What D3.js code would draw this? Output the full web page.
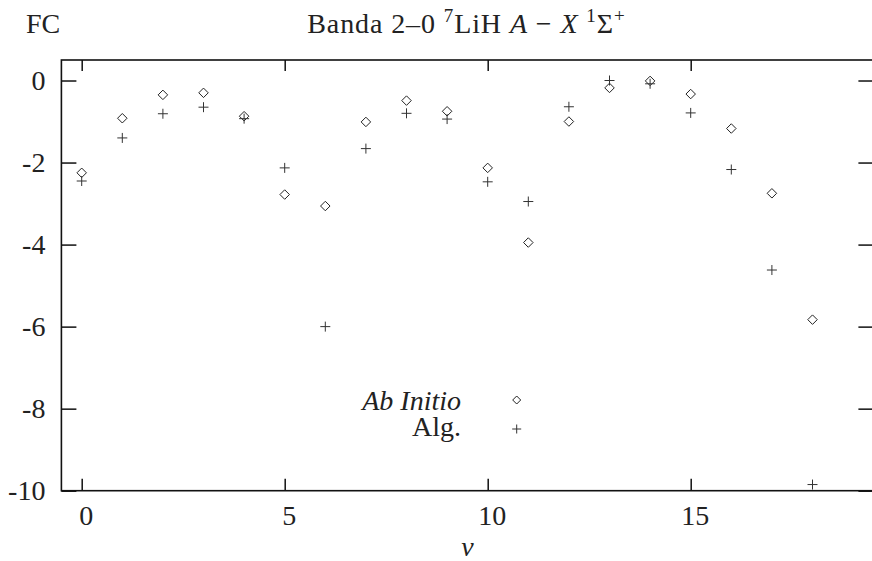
<!DOCTYPE html>
<html>
<head>
<meta charset="utf-8">
<script src="https://cdn.jsdelivr.net/npm/d3@7"></script>
<style>
  html, body { margin: 0; padding: 0; background: #fff; }
  svg { display: block; }
  svg text { font-family: "Liberation Serif", "Times New Roman", serif; }
</style>
</head>
<body>
<svg id="chart" width="872" height="561"></svg>
<script>
// Franck-Condon factors (log scale) per vibrational level v
const levels   = [0, 1, 2, 3, 4, 5, 6, 7, 8, 9, 10, 11, 12, 13, 14, 15, 16, 17, 18];
const abInitio = [-2.25, -0.92, -0.35, -0.30, -0.87, -2.78, -3.06, -1.01, -0.49, -0.75,
                  -2.13, -3.95, -1.00, -0.18, -0.01, -0.33, -1.17, -2.75, -5.83];
const algebraic = [-2.45, -1.40, -0.81, -0.65, -0.93, -2.13, -6.00, -1.66, -0.80, -0.94,
                   -2.47, -2.95, -0.64, 0.00, -0.08, -0.79, -2.17, -4.62, -9.85];
const xTicks = [0, 5, 10, 15];
const yTicks = [0, -2, -4, -6, -8, -10];
const xDomain = [-0.5, 19.5];
const yDomain = [-10, 0.5];

const fontSize = 28;
const ink = "#111";
const textInk = "#222";

const svg = d3.select("#chart");
const plotLeft = 61.4, plotRight = 873.4, plotTop = 60, plotBottom = 490.7;

const x = d3.scaleLinear().domain(xDomain).range([plotLeft, plotRight]);
const y = d3.scaleLinear().domain(yDomain).range([plotBottom, plotTop]);

// Axes with inward ticks on all four sides
function styleAxis(g) {
  g.attr("font-family", null).attr("font-size", fontSize);
  g.select(".domain").remove();
  g.selectAll(".tick line").attr("stroke", ink).attr("stroke-width", 1.5);
  g.selectAll(".tick text").attr("fill", textInk);
}

svg.append("g").attr("transform", `translate(0,${plotBottom})`)
  .call(d3.axisBottom(x).tickValues(xTicks).tickSize(-12).tickSizeOuter(0)
        .tickPadding(14).tickFormat(d => String(d)))
  .call(styleAxis)
  .selectAll(".tick text").attr("dx", 4);

svg.append("g").attr("transform", `translate(0,${plotTop})`)
  .call(d3.axisTop(x).tickValues(xTicks).tickSize(-11).tickSizeOuter(0).tickFormat(""))
  .call(styleAxis);

svg.append("g").attr("transform", `translate(${plotLeft},0)`)
  .call(d3.axisLeft(y).tickValues(yTicks).tickSize(-15).tickSizeOuter(0)
        .tickPadding(16).tickFormat(d => String(d)))
  .call(styleAxis);

svg.append("g").attr("transform", `translate(${plotRight},0)`)
  .call(d3.axisRight(y).tickValues(yTicks).tickSize(-15).tickSizeOuter(0).tickFormat(""))
  .call(styleAxis);

// Plot frame
svg.append("rect")
  .attr("x", plotLeft).attr("y", plotTop)
  .attr("width", plotRight - plotLeft).attr("height", plotBottom - plotTop)
  .attr("fill", "none").attr("stroke", ink).attr("stroke-width", 1.6);

// Outline marker shapes: size is the full width of the marker
const diamondType = { draw(ctx, s) { const r = s / 2;
  ctx.moveTo(0, -r); ctx.lineTo(r, 0); ctx.lineTo(0, r); ctx.lineTo(-r, 0); ctx.closePath(); } };
const plusType = { draw(ctx, s) { const r = s / 2;
  ctx.moveTo(-r, 0); ctx.lineTo(r, 0); ctx.moveTo(0, -r); ctx.lineTo(0, r); } };
const diamond = d3.symbol().type(diamondType).size(9.5);
const plus = d3.symbol().type(plusType).size(10);

svg.append("g").selectAll("path")
  .data(levels.map((v, i) => [v, abInitio[i]]))
  .join("path")
  .attr("transform", d => `translate(${x(d[0])},${y(d[1])})`)
  .attr("d", diamond)
  .attr("fill", "none").attr("stroke", "#222").attr("stroke-width", 1);

svg.append("g").selectAll("path")
  .data(levels.map((v, i) => [v, algebraic[i]]))
  .join("path")
  .attr("transform", d => `translate(${x(d[0])},${y(d[1])})`)
  .attr("d", plus)
  .attr("fill", "none").attr("stroke", "#333").attr("stroke-width", 1);

// Legend
const legendTextX = 461, legendSymX = 516.7;
svg.append("text").attr("x", legendTextX).attr("y", 410)
  .attr("text-anchor", "end").attr("font-size", fontSize).attr("font-style", "italic")
  .attr("fill", textInk).text("Ab Initio");
svg.append("path").attr("transform", `translate(${legendSymX},400)`)
  .attr("d", d3.symbol().type(diamondType).size(8))
  .attr("fill", "none").attr("stroke", "#222").attr("stroke-width", 1);
svg.append("text").attr("x", legendTextX).attr("y", 436)
  .attr("text-anchor", "end").attr("font-size", fontSize)
  .attr("fill", textInk).text("Alg.");
svg.append("path").attr("transform", `translate(${legendSymX},429)`)
  .attr("d", d3.symbol().type(plusType).size(9))
  .attr("fill", "none").attr("stroke", "#333").attr("stroke-width", 1);

// Axis label
svg.append("text").attr("x", (plotLeft + plotRight) / 2).attr("y", 556)
  .attr("text-anchor", "middle").attr("font-size", fontSize).attr("font-style", "italic")
  .attr("fill", textInk).text("v");

// Y label and title
svg.append("text").attr("x", 26).attr("y", 33)
  .attr("font-size", fontSize).attr("fill", textInk).text("FC");

const title = svg.append("text").attr("x", (plotLeft + plotRight) / 2 - 1).attr("y", 33)
  .attr("text-anchor", "middle").attr("font-size", fontSize).attr("fill", textInk)
  .attr("letter-spacing", 0.9);
title.append("tspan").text("Banda 2–0 ");
title.append("tspan").attr("font-size", 19).attr("dy", -11).text("7");
title.append("tspan").attr("dy", 11).text("LiH ");
title.append("tspan").attr("font-style", "italic").text("A");
title.append("tspan").text(" − ");
title.append("tspan").attr("font-style", "italic").text("X");
title.append("tspan").text(" ");
title.append("tspan").attr("font-size", 19).attr("dy", -11).text("1");
title.append("tspan").attr("dy", 11).text("Σ");
title.append("tspan").attr("font-size", 19).attr("dy", -11).text("+");
</script>
</body>
</html>
